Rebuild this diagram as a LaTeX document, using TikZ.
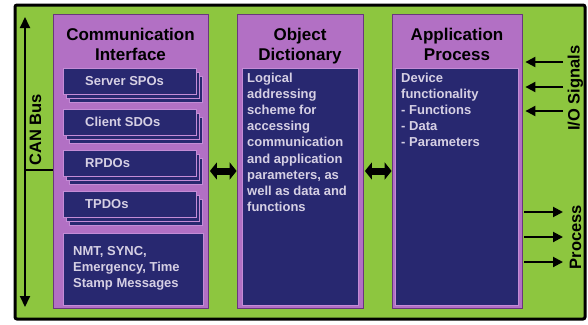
\documentclass[tikz,border=0pt]{standalone}
\usepackage{fontspec}
\setmainfont{Liberation Sans}
\usetikzlibrary{arrows.meta,calc}
\definecolor{bggreen}{RGB}{141,198,63}
\definecolor{colpurple}{RGB}{178,112,196}
\definecolor{coledge}{RGB}{105,55,125}
\definecolor{navy}{RGB}{40,40,112}
\definecolor{ltext}{RGB}{214,208,228}
\definecolor{layeredge}{RGB}{196,140,214}
\begin{document}
\begin{tikzpicture}[x=1pt,y=-1pt,
  colbox/.style={draw=coledge, line width=0.8pt, fill=colpurple, inner sep=0pt},
  navybox/.style={fill=navy, draw=layeredge, line width=0.5pt, inner sep=0pt},
  layerbox/.style={fill=navy, draw=layeredge, line width=0.6pt},
  titletext/.style={font=\fontsize{17}{20}\selectfont\bfseries, align=center, inner sep=0pt, text=black},
  intext/.style={font=\fontsize{13}{16.2}\selectfont\bfseries, align=left, inner sep=0pt, text=ltext},
  sidetext/.style={font=\fontsize{16.5}{19}\selectfont\bfseries, inner sep=0pt, text=black, rotate=90},
  dblarrow/.style={line width=7pt, {Triangle[length=7pt,width=17pt]}-{Triangle[length=7pt,width=17pt]}},
  sigarrow/.style={line width=2pt, -{Triangle[length=10pt,width=10pt]}},
  busarrow/.style={line width=2pt, {Triangle[length=11pt,width=10pt]}-{Triangle[length=11pt,width=10pt]}},
  busline/.style={line width=1.6pt}
]
\useasboundingbox (0,0) rectangle (588,324);
\fill[white] (0,0) rectangle (588,324);
% outer frame
\draw[line width=3pt, fill=bggreen, rounded corners=2pt] (15,5) rectangle (585,319);

% columns
\node[colbox, minimum width=155pt, minimum height=294pt] (col1) at (130.5,161) {};
\node[colbox, minimum width=126pt, minimum height=294pt] (col2) at (300,161) {};
\node[colbox, minimum width=130pt, minimum height=294pt] (col3) at (457,161) {};

% titles
\node[titletext, anchor=north] (t1) at (130.5,28) {Communication\\Interface};
\node[titletext, anchor=north] (t2) at (300,28) {Object\\Dictionary};
\node[titletext, anchor=north] (t3) at (457,28) {Application\\Process};

% stacked boxes in column 1
\foreach \n/\yy/\t in {srv/68/Server SPOs, cli/109/Client SDOs, rpdo/150/RPDOs, tpdo/191/TPDOs} {
  \filldraw[layerbox] (69,\yy+8) rectangle (202,\yy+34);
  \filldraw[layerbox] (66,\yy+4) rectangle (199,\yy+30);
  \node[navybox, anchor=north west, minimum width=133pt, minimum height=26pt] (\n) at (63,\yy) {};
  \node[intext, anchor=west] (\n-t) at (85,\yy+13) {\t};
}
\node[navybox, anchor=north west, minimum width=140pt, minimum height=72pt] (nmt) at (63,233) {};
\node[intext, anchor=north west] (nmt-t) at (73,246) {NMT, SYNC,\\Emergency, Time\\Stamp Messages};

% inner boxes of columns 2 and 3
\node[navybox, anchor=north west, minimum width=116pt, minimum height=237pt] (od) at (242,68) {};
\node[intext, anchor=north west] (od-t) at (247,72.5) {Logical\\addressing\\scheme for\\accessing\\communication\\and application\\parameters, as\\well as data and\\functions};
\node[navybox, anchor=north west, minimum width=123pt, minimum height=237pt] (ap) at (395,68) {};
\node[intext, anchor=north west] (ap-t) at (401,72.5) {Device\\functionality\\- Functions\\- Data\\- Parameters};

% double arrows between columns
\coordinate (ay) at (0,171);
\draw[dblarrow, shorten <=1.5pt] (col1.east |- ay) -- (col2.west |- ay);
\draw[dblarrow, shorten <=1.5pt] (col2.east |- ay) -- (col3.west |- ay);

% CAN bus
\coordinate (canTop) at (25,17);
\coordinate (canBot) at (25,307);
\coordinate (canJ) at (25,170);
\draw[busarrow] (canTop) -- (canBot);
\draw[busline] (canJ) -- (col1.west |- canJ);
\node[sidetext] (can) at (35.5,130) {CAN Bus};

% I/O signals
\foreach \yy [count=\i] in {62,87,111} {
  \coordinate (io\i) at (563,\yy);
  \draw[sigarrow, shorten >=3pt] (io\i) -- (col3.east |- io\i);
}
\node[sidetext] (iosig) at (575.5,88) {I/O Signals};

% process
\foreach \yy [count=\i] in {212,237,262} {
  \coordinate (pr\i) at (563,\yy);
  \draw[sigarrow, shorten <=2pt] (col3.east |- pr\i) -- (pr\i);
}
\node[sidetext] (proc) at (575.5,237) {Process};
\end{tikzpicture}
\end{document}
